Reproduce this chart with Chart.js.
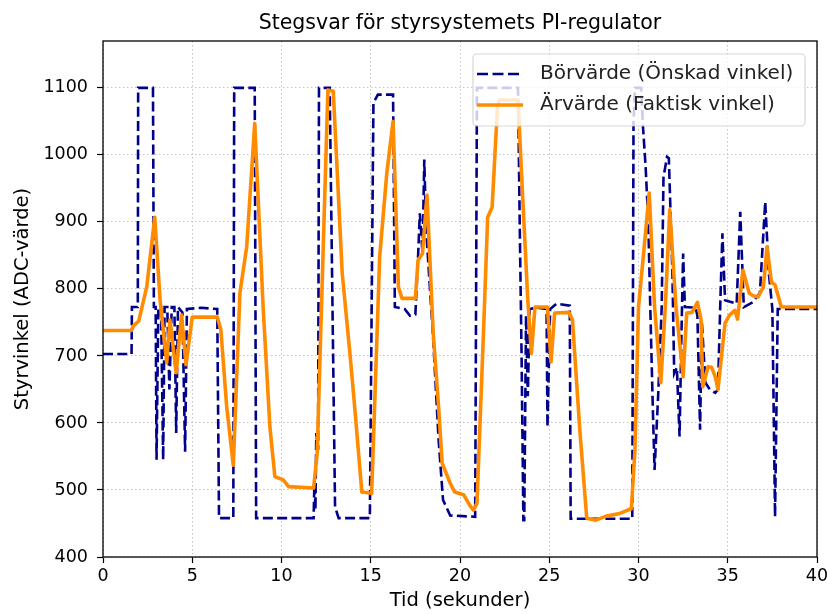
<!DOCTYPE html>
<html>
<head>
<meta charset="utf-8">
<script src="https://cdn.jsdelivr.net/npm/chart.js@4/dist/chart.umd.min.js"></script>
<style>
  html, body { margin: 0; padding: 0; background: #fff; }
  canvas { display: block; }
</style>
</head>
<body>
<canvas id="stepChart" width="827" height="614"></canvas>
<script>
// Börvärde (setpoint) - time and value
const setTime = [0, 1.6, 1.62, 1.95, 1.97, 2.8, 2.85, 2.95, 3.0, 3.1, 3.25, 3.37, 3.45, 3.6, 3.72, 3.85, 4.0, 4.1, 4.2, 4.45, 4.6, 4.7, 5.5, 6.4, 6.5, 7.3, 7.35, 8.5, 8.58, 11.8, 11.85, 11.9, 11.95, 12.05, 12.1, 12.7, 13.0, 13.2, 14.95, 15.15, 15.4, 16.25, 16.35, 16.9, 17.2, 17.5, 17.65, 17.75, 17.9, 18.0, 18.1, 18.5, 18.8, 19.05, 19.45, 20.85, 20.95, 23.25, 23.35, 23.45, 23.55, 23.6, 23.7, 23.8, 23.9, 24.3, 24.85, 24.9, 25.05, 25.4, 26.15, 26.2, 29.65, 29.72, 29.8, 30.15, 30.25, 30.4, 30.55, 30.65, 30.8, 30.9, 31.1, 31.3, 31.4, 31.6, 31.7, 31.9, 32.0, 32.15, 32.3, 32.4, 32.5, 32.6, 33.2, 33.3, 33.45, 33.55, 33.75, 34.0, 34.3, 34.45, 34.6, 34.7, 34.85, 35.5, 35.7, 35.9, 36.4, 36.8, 37.1, 37.3, 37.5, 37.65, 37.8, 40];
const setValue = [703, 703, 773, 773, 1100, 1100, 773, 773, 545, 773, 773, 545, 773, 773, 650, 773, 773, 585, 773, 765, 557, 770, 772, 770, 458, 458, 1100, 1100, 458, 458, 520, 470, 585, 560, 1100, 1100, 475, 458, 458, 1078, 1090, 1090, 773, 770, 760, 762, 848, 913, 853, 993, 890, 724, 575, 485, 462, 460, 1100, 1100, 888, 700, 455, 455, 760, 640, 770, 772, 770, 594, 770, 778, 775, 457, 457, 1047, 1100, 1100, 1043, 982, 898, 783, 624, 530, 640, 773, 967, 997, 995, 824, 674, 683, 580, 724, 853, 773, 772, 760, 590, 750, 660, 650, 645, 650, 794, 883, 783, 778, 915, 773, 780, 794, 930, 824, 770, 460, 770, 770];

// Ärvärde (actual) - time and value
const actTime = [0, 1.6, 1.7, 2.0, 2.45, 2.9, 3.2, 3.57, 3.75, 4.1, 4.4, 4.65, 5.0, 6.4, 6.6, 6.93, 7.3, 7.67, 8.05, 8.5, 8.97, 9.35, 9.63, 10.1, 10.4, 11.8, 12.0, 12.35, 12.6, 12.9, 13.4, 13.85, 14.1, 14.5, 15.05, 15.5, 15.9, 16.25, 16.55, 16.75, 17.5, 17.65, 17.9, 18.15, 18.5, 18.8, 19.0, 19.45, 19.7, 20.2, 20.55, 20.75, 20.95, 21.3, 21.55, 21.8, 22.1, 22.2, 23.25, 23.5, 23.8, 24.0, 24.2, 24.9, 25.1, 25.3, 26.1, 26.3, 26.7, 27.1, 27.6, 28.2, 28.95, 29.6, 29.8, 30.0, 30.25, 30.6, 30.9, 31.25, 31.5, 31.75, 32.1, 32.5, 32.7, 33.0, 33.3, 33.5, 33.6, 33.9, 34.1, 34.3, 34.45, 34.85, 35.1, 35.4, 35.55, 35.85, 36.2, 36.4, 36.7, 37.0, 37.2, 37.45, 37.65, 38.0, 40];
const actValue = [738, 738, 745, 752, 803, 907, 783, 690, 754, 675, 761, 687, 758, 758, 740, 624, 537, 794, 863, 1047, 773, 594, 520, 515, 505, 503, 555, 873, 1097, 1095, 824, 699, 624, 497, 495, 848, 973, 1050, 803, 786, 786, 843, 853, 940, 734, 624, 540, 510, 497, 493, 477, 470, 480, 724, 907, 922, 1072, 1082, 1082, 943, 783, 704, 773, 773, 691, 764, 765, 754, 594, 458, 455, 461, 465, 472, 560, 773, 843, 943, 773, 660, 773, 918, 773, 669, 764, 765, 780, 755, 654, 684, 683, 669, 650, 749, 761, 768, 755, 828, 794, 790, 788, 803, 863, 810, 806, 773, 773];

const xTicks = [0, 5, 10, 15, 20, 25, 30, 35, 40];
const yTicks = [400, 500, 600, 700, 800, 900, 1000, 1100];

const legendLabels = ['Börvärde (Önskad vinkel)', 'Ärvärde (Faktisk vinkel)'];
const setColor = '#00008b';
const actColor = '#ff8c00';
const FONT = "'DejaVu Sans', sans-serif";

// black frame round the plot area
const framePlugin = {
  id: 'frame',
  afterDatasetsDraw(chart) {
    const a = chart.chartArea;
    const ctx = chart.ctx;
    ctx.save();
    ctx.strokeStyle = '#000';
    ctx.lineWidth = 1.3;
    ctx.strokeRect(a.left, a.top, a.right - a.left, a.bottom - a.top);
    ctx.restore();
  }
};

// matplotlib-style legend box in upper right
const boxLegend = {
  id: 'boxLegend',
  afterDatasetsDraw(chart) {
    const ctx = chart.ctx;
    const x = 473, y = 54, w = 332, h = 72, r = 4;
    ctx.save();
    ctx.beginPath();
    ctx.roundRect(x, y, w, h, r);
    ctx.fillStyle = 'rgba(255,255,255,0.8)';
    ctx.fill();
    ctx.strokeStyle = 'rgba(204,204,204,0.8)';
    ctx.lineWidth = 1.2;
    ctx.stroke();

    const rows = [74, 105];
    // dashed sample
    ctx.beginPath();
    ctx.setLineDash([11, 4.5]);
    ctx.strokeStyle = setColor;
    ctx.lineWidth = 2.6;
    ctx.moveTo(477, rows[0]);
    ctx.lineTo(523, rows[0]);
    ctx.stroke();
    // solid sample
    ctx.beginPath();
    ctx.setLineDash([]);
    ctx.strokeStyle = actColor;
    ctx.lineWidth = 3.6;
    ctx.moveTo(477, rows[1]);
    ctx.lineTo(523, rows[1]);
    ctx.stroke();

    ctx.fillStyle = '#222';
    ctx.font = '20px ' + FONT;
    ctx.textBaseline = 'middle';
    ctx.textAlign = 'left';
    ctx.fillText(legendLabels[0], 540, rows[0]);
    ctx.fillText(legendLabels[1], 540, rows[1]);
    ctx.restore();
  }
};

const ctx = document.getElementById('stepChart').getContext('2d');
new Chart(ctx, {
  type: 'line',
  data: {
    datasets: [{
      label: legendLabels[1],
      data: actTime.map((t, i) => ({ x: t, y: actValue[i] })),
      borderColor: actColor,
      borderWidth: 3.6,
      pointRadius: 0,
      tension: 0,
      fill: false,
      borderJoinStyle: 'round',
      order: 0
    }, {
      label: legendLabels[0],
      data: setTime.map((t, i) => ({ x: t, y: setValue[i] })),
      borderColor: setColor,
      borderWidth: 2.6,
      borderDash: [10, 4.3],
      pointRadius: 0,
      tension: 0,
      fill: false,
      order: 1
    }]
  },
  options: {
    responsive: false,
    animation: false,
    layout: { padding: { left: 0, right: 10, top: 0, bottom: 0 } },
    plugins: {
      legend: { display: false },
      tooltip: { enabled: false },
      title: {
        display: true,
        fullSize: false,
        text: 'Stegsvar för styrsystemets PI-regulator',
        color: '#000',
        font: { family: FONT, size: 20.5, weight: 'normal', lineHeight: 1.2 },
        padding: { top: 11, bottom: 5.4 }
      }
    },
    scales: {
      x: {
        type: 'linear',
        min: 0,
        max: 40,
        afterBuildTicks: s => { s.ticks = xTicks.map(v => ({ value: v })); },
        afterFit: s => { s.height = 57; s.paddingRight = 0; s.paddingLeft = 0; },
        grid: { color: '#c4c4c4', lineWidth: 1, tickColor: '#000', tickLength: 6, tickWidth: 1.2 },
        border: { display: false, dash: [1.5, 2.5] },
        ticks: { color: '#000', font: { family: FONT, size: 17.5 }, padding: 3, maxRotation: 0,
          callback: v => String(v) },
        title: {
          display: true,
          text: 'Tid (sekunder)',
          color: '#000',
          font: { family: FONT, size: 19.5 },
          padding: { top: 0, bottom: 1 }
        }
      },
      y: {
        type: 'linear',
        min: 400,
        max: 1170,
        afterBuildTicks: s => { s.ticks = yTicks.map(v => ({ value: v })); },
        afterFit: s => { s.width = 103; },
        grid: { color: '#c4c4c4', lineWidth: 1, tickColor: '#000', tickLength: 6, tickWidth: 1.2 },
        border: { display: false, dash: [1.5, 2.5] },
        ticks: { color: '#000', font: { family: FONT, size: 17.5 }, padding: 9,
          callback: v => String(v) },
        title: {
          display: true,
          text: 'Styrvinkel (ADC-värde)',
          color: '#000',
          font: { family: FONT, size: 19.5 },
          padding: { top: 11, bottom: 0 }
        }
      }
    }
  },
  plugins: [framePlugin, boxLegend]
});
</script>
</body>
</html>
